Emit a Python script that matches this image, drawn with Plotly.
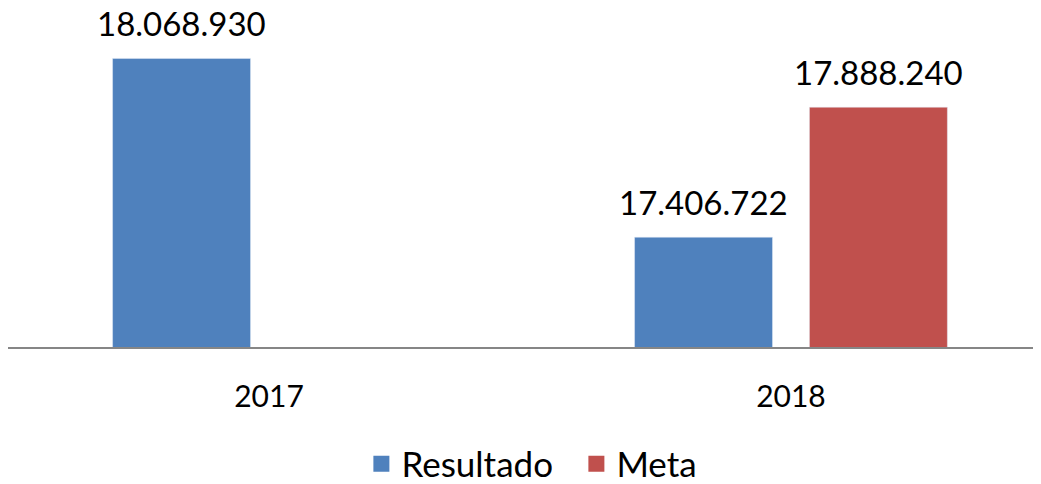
import plotly.graph_objects as go

categories = ["2017", "2018"]
resultado = [18068930, 17406722]
meta = [None, 17888240]

BLUE = "#4F81BD"
RED = "#C0504D"
FONT = "Lato"

fig = go.Figure()
fig.add_trace(go.Bar(x=categories, y=resultado, name="Resultado", marker_color=BLUE,
                     showlegend=False))
fig.add_trace(go.Bar(x=categories, y=meta, name="Meta", marker_color=RED,
                     showlegend=False))
# legend proxies
fig.add_trace(go.Scatter(x=[categories[0]], y=[None], mode="markers", name="Resultado",
                         marker=dict(symbol="square", size=20, color=BLUE)))
fig.add_trace(go.Scatter(x=[categories[0]], y=[None], mode="markers", name="Meta",
                         marker=dict(symbol="square", size=20, color=RED)))

def fmt(v):
    return f"{v:,.0f}".replace(",", ".")

for series, shift in ((resultado, -87.5), (meta, 87.5)):
    for i, v in enumerate(series):
        if v is None:
            continue
        fig.add_annotation(x=i, y=v, xref="x", yref="y", text=fmt(v),
                           showarrow=False, yanchor="bottom", yshift=13, xshift=shift,
                           font=dict(family=FONT, size=33, color="#000000"))

fig.update_layout(
    width=1041, height=484,
    margin=dict(l=0, r=8, t=15, b=145, autoexpand=False),
    paper_bgcolor="white", plot_bgcolor="white",
    barmode="group", bargap=0.33, bargroupgap=0.211,
    separators=",.",
    font=dict(family=FONT, size=30, color="#000000"),
    legend=dict(orientation="h", xref="container", x=0.546, xanchor="center",
                yref="container", y=0.058, yanchor="middle",
                font=dict(family=FONT, size=35, color="#000000"),
                itemsizing="trace", itemwidth=30, entrywidth=170, entrywidthmode="pixels"),
    xaxis=dict(type="category", categoryorder="array", categoryarray=categories,
               range=[-0.5, 1.479], automargin=False,
               showline=True, linecolor="#868686", linewidth=2, ticks="outside",
               ticklen=22, tickcolor="rgba(0,0,0,0)", showgrid=False,
               tickfont=dict(family=FONT, size=30, color="#000000")),
    yaxis=dict(range=[17000000, 18200000], visible=False, showgrid=False, automargin=False),
)

fig.write_html("out.html")
